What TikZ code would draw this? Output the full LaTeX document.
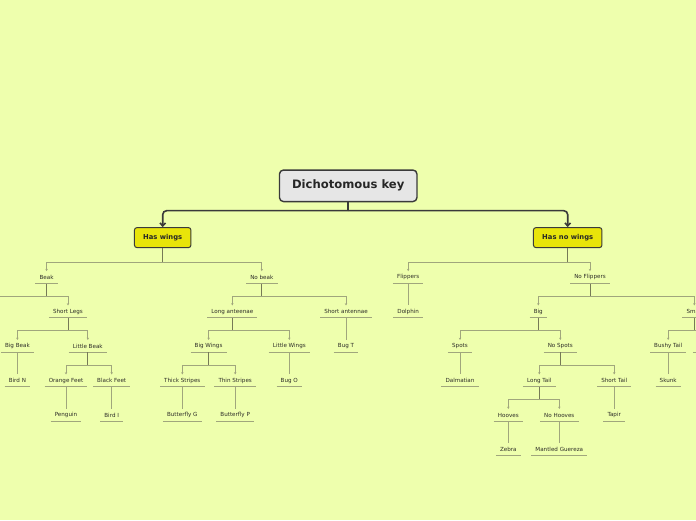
\documentclass[tikz,border=0pt]{standalone}
\usepackage{fontspec}
\setmainfont{DejaVu Sans}
\usetikzlibrary{arrows.meta}
\definecolor{bg}{RGB}{238,255,173}
\definecolor{rootfill}{RGB}{230,230,230}
\definecolor{ybox}{RGB}{232,228,10}
\definecolor{dk}{RGB}{58,58,58}
\definecolor{txt}{RGB}{45,45,40}
\definecolor{stemc}{RGB}{118,122,86}
\definecolor{barc}{RGB}{160,166,124}
\tikzset{
  rootbox/.style={draw=dk, line width=1.4pt, fill=rootfill, rounded corners=4pt,
    minimum width=137.5pt, minimum height=31.5pt, font=\fontsize{11.6}{13}\selectfont\bfseries, text=black!85},
  ybox/.style={draw=dk, line width=1pt, fill=ybox, rounded corners=2.5pt,
    minimum height=20pt, inner xsep=0pt, font=\fontsize{6.8}{8}\selectfont\bfseries, text=black!85},
  lbl/.style={font=\fontsize{5.6}{6.5}\selectfont, text=txt, inner xsep=4pt, inner ysep=0pt,
    minimum height=12pt,
    append after command={(\tikzlastnode.south west) edge[uline] (\tikzlastnode.south east)}},
  uline/.style={draw=barc, line width=0.9pt},
  stem/.style={draw=stemc, line width=0.9pt},
  bar/.style={draw=barc, line width=0.9pt, -{Stealth[length=2.2pt,width=2.4pt]}},
  solo/.style={draw=barc, line width=0.9pt},
  mainc/.style={draw=dk, line width=1.6pt, rounded corners=4pt},
}
\newcommand\famtree[3][13]{%
  \path (#2.south) ++(0,#1) coordinate (j#2);
  \draw[stem] (#2.south) -- (j#2);
  \foreach \c in {#3} {\draw[bar] (j#2) -| (\c.north);}
}
\newcommand\solotree[2]{\draw[solo] (#1.south) -- (#2.north);}
\begin{document}
\begin{tikzpicture}[x=1pt,y=-1pt]
\useasboundingbox (0,0) rectangle (696,520);
\fill[bg] (0,0) rectangle (696,520);
\clip (0,0) rectangle (696,520);

% main nodes
\node[rootbox] (root) at (348.2,185.8) {Dichotomous key};
\node[ybox, minimum width=56.5pt] (hw) at (162.7,237.6) {Has wings};
\node[ybox, minimum width=68.5pt] (hnw) at (567.7,237.6) {Has no wings};

% level 1
\node[lbl] (beak) at (46.6,277.3) {Beak};
\node[lbl] (nobeak) at (261.8,277.3) {No beak};
\node[lbl] (flip) at (408.2,277.3) {Flippers};
\node[lbl] (noflip) at (590,277.3) {No Flippers};

% level 2
\node[lbl] (shortlegs) at (68,311.6) {Short Legs};
\node[lbl] (longant) at (232.3,311.6) {Long anteenae};
\node[lbl] (shortant) at (346,311.6) {Short antennae};
\node[lbl] (dolphin) at (408.2,311.6) {Dolphin};
\node[lbl] (big) at (538.3,311.6) {Big};
\node[lbl] (small) at (694.3,311.6) {Small};

% level 3
\node[lbl] (bigbeak) at (17.4,346.1) {Big Beak};
\node[lbl] (littlebeak) at (87.8,346.1) {Little Beak};
\node[lbl] (bigwings) at (208.6,346.1) {Big Wings};
\node[lbl] (littlewings) at (289.3,346.1) {Little Wings};
\node[lbl] (bugT) at (346,346.1) {Bug T};
\node[lbl] (spots) at (460,346.1) {Spots};
\node[lbl] (nospots) at (560.3,346.1) {No Spots};
\node[lbl] (bushy) at (668.2,346.1) {Bushy Tail};

% level 4
\node[lbl] (birdN) at (17.4,380.6) {Bird N};
\node[lbl] (orange) at (66,380.6) {Orange Feet};
\node[lbl] (black) at (111.7,380.6) {Black Feet};
\node[lbl] (thick) at (182.3,380.6) {Thick Stripes};
\node[lbl] (thin) at (235.2,380.6) {Thin Stripes};
\node[lbl] (bugO) at (289.3,380.6) {Bug O};
\node[lbl] (dalm) at (460,380.6) {Dalmatian};
\node[lbl] (longtail) at (539.3,380.6) {Long Tail};
\node[lbl] (shorttail) at (614.2,380.6) {Short Tail};
\node[lbl] (skunk) at (668.2,380.6) {Skunk};

% level 5
\node[lbl] (penguin) at (66,415.1) {Penguin};
\node[lbl] (birdI) at (111.7,415.1) {Bird I};
\node[lbl] (bfG) at (182.3,415.1) {Butterfly G};
\node[lbl] (bfP) at (235.2,415.1) {Butterfly P};
\node[lbl] (hooves) at (508.3,415.1) {Hooves};
\node[lbl] (nohooves) at (559.3,415.1) {No Hooves};
\node[lbl] (tapir) at (614.2,415.1) {Tapir};

% level 6
\node[lbl] (zebra) at (508.3,449.6) {Zebra};
\node[lbl] (mantled) at (559.3,449.6) {Mantled Guereza};

% main connectors
\path (root.south) ++(0,8.4) coordinate (jroot);
\draw[mainc] (root.south) -- (jroot);
\draw[mainc, -{Straight Barb[length=3pt,width=5.5pt]}] (jroot) -| (hw.north);
\draw[mainc, -{Straight Barb[length=3pt,width=5.5pt]}] (jroot) -| (hnw.north);

% trees
\famtree[14]{hw}{beak,nobeak}
\famtree[14]{hnw}{flip,noflip}
\famtree{beak}{shortlegs}
\path (jbeak) ++(-60,0) coordinate (offleft);
\draw[solo] (jbeak) -- (offleft);
\famtree{shortlegs}{bigbeak,littlebeak}
\solotree{bigbeak}{birdN}
\famtree{littlebeak}{orange,black}
\solotree{orange}{penguin}
\solotree{black}{birdI}
\famtree{nobeak}{longant,shortant}
\famtree{longant}{bigwings,littlewings}
\famtree{bigwings}{thick,thin}
\solotree{thick}{bfG}
\solotree{thin}{bfP}
\solotree{littlewings}{bugO}
\solotree{shortant}{bugT}
\solotree{flip}{dolphin}
\famtree{noflip}{big,small}
\famtree{big}{spots,nospots}
\solotree{spots}{dalm}
\famtree{nospots}{longtail,shorttail}
\famtree{longtail}{hooves,nohooves}
\solotree{hooves}{zebra}
\solotree{nohooves}{mantled}
\solotree{shorttail}{tapir}
\famtree{small}{bushy}
\path (jsmall) ++(30,0) coordinate (offright);
\draw[solo] (jsmall) -- (offright);
\solotree{bushy}{skunk}
\coordinate (offu1) at (692.8,352.1);
\coordinate (offu2) at (710,352.1);
\draw[uline] (offu1) -- (offu2);
\end{tikzpicture}
\end{document}
